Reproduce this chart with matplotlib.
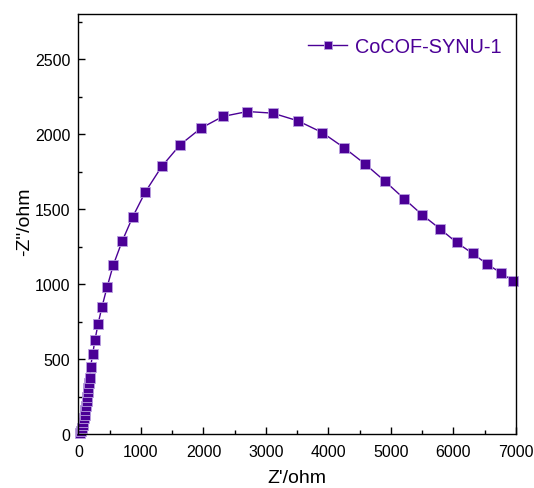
import matplotlib
matplotlib.use("Agg")
import matplotlib.pyplot as plt
from matplotlib.ticker import MultipleLocator

plt.rcParams['font.family'] = ['Liberation Sans', 'DejaVu Sans']

label = "CoCOF-SYNU-1"
z_real = [30, 45, 58, 70, 80, 90, 100, 110, 120, 130, 140, 150, 160, 170,
          179, 195, 227, 264, 312, 376, 457, 558, 697, 868, 1070, 1333, 1626,
          1960, 2310, 2704, 3111, 3511, 3900, 4253, 4584, 4909, 5214, 5502,
          5786, 6052, 6308, 6543, 6763, 6955]
z_imag = [5, 20, 40, 60, 80, 105, 130, 160, 190, 220, 250, 280, 310, 340,
          375, 451, 535, 629, 733, 849, 980, 1129, 1285, 1449, 1615, 1785, 1929,
          2040, 2118, 2151, 2140, 2089, 2011, 1909, 1802, 1685, 1569, 1462,
          1369, 1278, 1205, 1133, 1075, 1022]

color = '#4b0096'

fig = plt.figure(figsize=(5.34, 4.89), dpi=100)
ax = fig.add_axes([0.147, 0.110, 0.819, 0.859])
ax.plot(z_real, z_imag, '-s', color=color, lw=1.0, ms=7,
        markerfacecolor=color, markeredgecolor='#b9a0e0', markeredgewidth=0.6,
        label=label, clip_on=False)
ax.set_xlim(0, 7000)
ax.set_ylim(0, 2800)
ax.xaxis.set_major_locator(MultipleLocator(1000))
ax.xaxis.set_minor_locator(MultipleLocator(500))
ax.yaxis.set_major_locator(MultipleLocator(500))
ax.yaxis.set_minor_locator(MultipleLocator(250))
ax.tick_params(which='both', direction='in', top=False, right=False, labelsize=11.5)
ax.tick_params(axis='x', which='major', pad=7)
ax.tick_params(axis='y', which='major', pad=6)
ax.tick_params(which='major', length=5, width=1)
ax.tick_params(which='minor', length=3, width=1)
for s in ax.spines.values():
    s.set_linewidth(1.0)
ax.set_xlabel("Z'/ohm", fontsize=14, labelpad=7)
ax.set_ylabel('-Z"/ohm', fontsize=14)
ax.yaxis.set_label_coords(-0.104, 0.507)
leg = ax.legend(loc='upper right', frameon=False, fontsize=14.3, handlelength=2.0,
                handletextpad=0.4, markerscale=0.75,
                borderaxespad=0.3, bbox_to_anchor=(1.0, 0.978))
for t in leg.get_texts():
    t.set_color(color)
fig.savefig('out.png', dpi=100)
